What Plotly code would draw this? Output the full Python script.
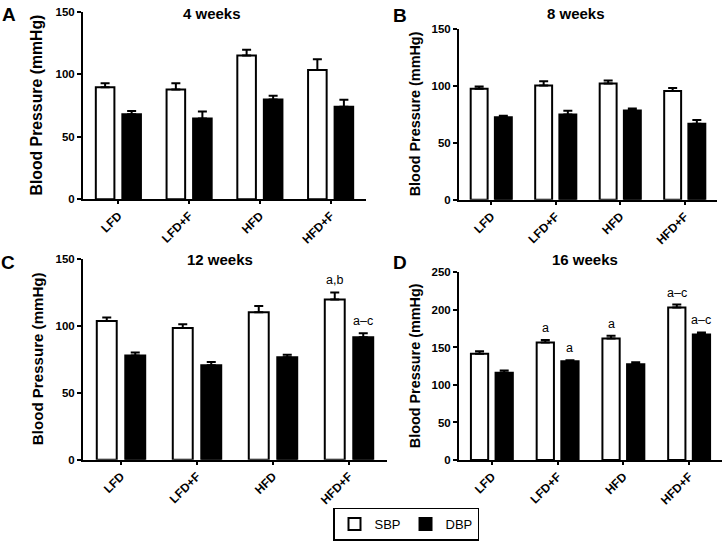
import plotly.graph_objects as go

W, H = 724, 541

groups = ["LFD", "LFD+F", "HFD", "HFD+F"]
panel_titles = ["4 weeks", "8 weeks", "12 weeks", "16 weeks"]
panel_letters = ["A", "B", "C", "D"]

# 4 weeks
sbp_4 = [89.7, 87.9, 115.0, 103.5]
sbp_4_err = [3.2, 5.0, 4.7, 8.5]
dbp_4 = [68.0, 64.5, 79.9, 74.0]
dbp_4_err = [2.6, 5.8, 2.9, 5.6]
# 8 weeks
sbp_8 = [97.4, 100.3, 102.0, 95.5]
sbp_8_err = [2.0, 3.7, 2.6, 2.5]
dbp_8 = [72.5, 74.8, 78.4, 66.7]
dbp_8_err = [1.2, 3.2, 1.6, 3.3]
# 12 weeks
sbp_12 = [103.5, 98.3, 110.0, 119.5]
sbp_12_err = [2.5, 2.7, 4.6, 5.3]
dbp_12 = [77.7, 70.5, 76.5, 91.3]
dbp_12_err = [2.3, 2.3, 1.7, 3.0]
# 16 weeks
sbp_16 = [141.8, 156.8, 162.0, 203.2]
sbp_16_err = [3.1, 3.2, 3.6, 4.0]
dbp_16 = [116.2, 131.6, 127.7, 167.4]
dbp_16_err = [3.1, 1.4, 2.6, 2.6]

# significance letters
sig_12_sbp = ["", "", "", "a,b"]
sig_12_dbp = ["", "", "", "a–c"]
sig_16_sbp = ["", "a", "a", "a–c"]
sig_16_dbp = ["", "a", "", "a–c"]

y_max = [150, 150, 150, 250]
y_tick_step = [50, 50, 50, 50]

panels = [
    (sbp_4, sbp_4_err, dbp_4, dbp_4_err, None, None),
    (sbp_8, sbp_8_err, dbp_8, dbp_8_err, None, None),
    (sbp_12, sbp_12_err, dbp_12, dbp_12_err, sig_12_sbp, sig_12_dbp),
    (sbp_16, sbp_16_err, dbp_16, dbp_16_err, sig_16_sbp, sig_16_dbp),
]

# layout (pixel boxes: left, right, top, bottom)
boxes = [(83, 366, 12, 201), (459, 717, 29, 201.7), (83, 387, 261, 464), (459, 722, 275, 464.3)]
title_pos = [(212, 14), (576, 14), (220, 262), (585, 262)]
letter_pos = [(9, 15), (400, 16), (8, 265), (400, 265)]
ytitle_x = [37, 415, 37, 415]
ytitle_size = [15.8, 14.4, 15.1, 14.4]

FONT = "Liberation Sans, Arial, sans-serif"
BARGAP = 0.25
GROUPGAP = 0.3

fig = go.Figure()
annotations = []

for i, (sbp, sbp_e, dbp, dbp_e, sig_s, sig_d) in enumerate(panels):
    xa = "x" if i == 0 else f"x{i+1}"
    ya = "y" if i == 0 else f"y{i+1}"
    fig.add_trace(go.Bar(
        x=groups, y=sbp, name="SBP", xaxis=xa, yaxis=ya,
        marker=dict(color="white", line=dict(color="black", width=2)),
        error_y=dict(type="data", array=sbp_e, arrayminus=[0] * 4, symmetric=False,
                     color="black", thickness=2, width=4.5),
        showlegend=(i == 0), legendgroup="SBP",
    ))
    fig.add_trace(go.Bar(
        x=groups, y=dbp, name="DBP", xaxis=xa, yaxis=ya,
        marker=dict(color="black", line=dict(color="black", width=2)),
        error_y=dict(type="data", array=dbp_e, arrayminus=[0] * 4, symmetric=False,
                     color="black", thickness=2, width=4.5),
        showlegend=(i == 0), legendgroup="DBP",
    ))

    l, r, t, b = boxes[i]
    dom_x = [l / W, r / W]
    dom_y = [1 - b / H, 1 - t / H]
    axis_common = dict(showline=True, linecolor="black", linewidth=2, showgrid=False,
                       zeroline=False, ticks="outside", tickcolor="black", tickwidth=2,
                       automargin=False)
    fig.update_layout(**{
        ("xaxis" if i == 0 else f"xaxis{i+1}"): dict(
            domain=dom_x, anchor=ya, range=[-0.5, 3.5], ticklen=3, tickangle=-45,
            tickfont=dict(family=FONT, size=12, color="black", weight="bold"),
            **axis_common),
        ("yaxis" if i == 0 else f"yaxis{i+1}"): dict(
            domain=dom_y, anchor=xa, range=[0, y_max[i]], ticklen=4,
            tickmode="linear", tick0=0, dtick=y_tick_step[i],
            tickfont=dict(family=FONT, size=11.5, color="black", weight="bold"),
            **axis_common),
    })

    tx, ty = title_pos[i]
    annotations.append(dict(text=panel_titles[i], x=tx / W, y=1 - ty / H, xref="paper", yref="paper",
                            showarrow=False, xanchor="center", yanchor="middle",
                            font=dict(family=FONT, size=15, color="black", weight="bold")))
    lx, ly = letter_pos[i]
    annotations.append(dict(text=panel_letters[i], x=lx / W, y=1 - ly / H, xref="paper", yref="paper",
                            showarrow=False, xanchor="center", yanchor="middle",
                            font=dict(family=FONT, size=19, color="black", weight="bold")))
    annotations.append(dict(text="Blood Pressure (mmHg)", x=ytitle_x[i] / W, y=1 - (t + b) / 2 / H,
                            xref="paper", yref="paper", showarrow=False, textangle=-90,
                            xanchor="center", yanchor="middle",
                            font=dict(family=FONT, size=ytitle_size[i], color="black", weight="bold")))
    if sig_s is not None:
        cat_px = (r - l) / 4.0
        slot = cat_px * (1 - BARGAP) / 2
        for series_sig, vals, errs, shift in ((sig_s, sbp, sbp_e, -slot / 2), (sig_d, dbp, dbp_e, slot / 2)):
            for g, lab in enumerate(series_sig):
                if lab:
                    annotations.append(dict(text=lab, x=groups[g], y=vals[g] + errs[g], xref=xa, yref=ya,
                                            xshift=shift, yshift=3, showarrow=False,
                                            xanchor="center", yanchor="bottom",
                                            font=dict(family=FONT, size=12.5, color="black")))

fig.update_layout(
    width=W, height=H,
    margin=dict(l=0, r=0, t=0, b=0),
    paper_bgcolor="white", plot_bgcolor="white",
    barmode="group", bargap=BARGAP, bargroupgap=GROUPGAP,
    font=dict(family=FONT, color="black"),
    annotations=annotations,
    legend=dict(orientation="h", x=406 / W, y=1 - 529 / H, xanchor="center", yanchor="middle",
                bordercolor="black", borderwidth=1.5, bgcolor="white",
                font=dict(family=FONT, size=13, color="black"), traceorder="normal",
                itemwidth=30),
)

fig.write_html("out.html", config={"displayModeBar": False},
               post_script="document.body.style.margin='0px';")
